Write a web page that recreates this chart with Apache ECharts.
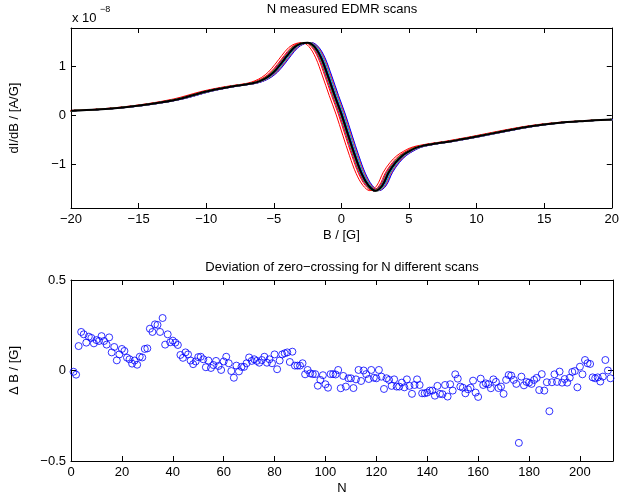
<!DOCTYPE html>
<html>
<head>
<meta charset="utf-8">
<script src="https://cdn.jsdelivr.net/npm/echarts@6/dist/echarts.min.js"></script>
<style>
html, body { margin: 0; padding: 0; background: #fff; }
#main { width: 622px; height: 499px; }
</style>
</head>
<body>
<div id="main"></div>
<script>
// mean EDMR line shape, B in G, signal in units of 1e-8 A/G
var fieldB = [-20, -18, -16, -14, -12, -10, -9, -8, -7, -6.5, -6, -5.5, -5, -4.5, -4, -3.5, -3, -2.5, -2, -1.5, -1, -0.5,
	0, 0.5, 1, 1.5, 2, 2.5, 3, 3.5, 4, 4.5, 5, 5.5, 6, 7, 8, 9, 10, 12, 14, 16, 18, 20];
var dIdB = [0.09, 0.115, 0.16, 0.23, 0.33, 0.48, 0.54, 0.59, 0.63, 0.655, 0.70, 0.77, 0.88, 1.04, 1.22, 1.38, 1.46, 1.48, 1.40, 1.17, 0.80, 0.40,
	0.02, -0.41, -0.83, -1.20, -1.44, -1.545, -1.45, -1.17, -0.97, -0.83, -0.74, -0.67, -0.63, -0.58, -0.54, -0.49, -0.44, -0.33, -0.23, -0.16, -0.12, -0.09];

// zero-crossing deviation of each scan (N = 1..212), in G
var deltaB = [
	-0.007, -0.023, 0.135, 0.213, 0.20, 0.154, 0.187, 0.18, 0.15, 0.168,
	0.163, 0.19, 0.163, 0.143, 0.183, 0.10, 0.13, 0.056, 0.089, 0.119,
	0.108, 0.071, 0.062, 0.038, 0.055, 0.032, 0.076, 0.072, 0.119, 0.122,
	0.231, 0.213, 0.255, 0.252, 0.213, 0.29, 0.143, 0.20, 0.156, 0.165,
	0.154, 0.141, 0.086, 0.07, 0.10, 0.089, 0.055, 0.035, 0.05, 0.074,
	0.076, 0.062, 0.018, 0.055, 0.014, 0.03, 0.053, 0.025, 0.003, 0.05,
	0.076, 0.04, -0.003, -0.04, 0.027, -0.005, 0.02, 0.02, 0.04, 0.072,
	0.053, 0.062, 0.053, 0.043, 0.058, 0.076, 0.043, 0.062, 0.04, 0.089,
	0.007, 0.055, 0.089, 0.095, 0.10, 0.047, 0.104, 0.027, 0.027, 0.027,
	0.04, -0.021, 0.003, -0.016, -0.02, -0.02, -0.084, -0.052, -0.026, -0.076,
	-0.095, -0.02, -0.02, -0.022, 0.003, -0.098, -0.03, -0.089, -0.043, -0.043,
	-0.097, -0.049, 0.003, -0.058, 0, -0.02, -0.047, 0.003, -0.04, -0.043,
	0.003, -0.034, -0.102, -0.043, -0.052, -0.085, -0.049, -0.089, -0.089, -0.067,
	-0.093, -0.049, -0.085, -0.129, -0.08, -0.049, -0.08, -0.126, -0.126, -0.122,
	-0.111, -0.111, -0.139, -0.085, -0.129, -0.131, -0.08, -0.144, -0.076, -0.111,
	-0.021, -0.045, -0.089, -0.095, -0.126, -0.104, -0.095, -0.056, -0.122, -0.146,
	-0.045, -0.08, -0.071, -0.076, -0.098, -0.049, -0.063, -0.097, -0.089, -0.129,
	-0.052, -0.025, -0.028, -0.052, -0.074, -0.40, -0.034, -0.082, -0.063, -0.067,
	-0.074, -0.052, -0.041, -0.108, -0.02, -0.111, -0.065, -0.225, -0.065, -0.021,
	-0.063, -0.006, -0.067, -0.047, -0.067, -0.04, -0.008, -0.003, -0.093, 0.021,
	-0.021, 0.058, 0.04, 0.036, -0.038, -0.043, -0.038, -0.061, -0.034, 0.058,
	0, -0.043
];

var scanColors = ['#0000ff', '#00ff00', '#ff0000', '#00ffff', '#ff00ff', '#ffff00'];
var meanColor = '#000000';

var topXTicks = [-20, -15, -10, -5, 0, 5, 10, 15, 20];
var topYTicks = [-1, 0, 1];
var botXTicks = [0, 20, 40, 60, 80, 100, 120, 140, 160, 180, 200];
var botYTicks = [-0.5, 0, 0.5];

var FONT = 'Liberation Sans';

function minus(v) {
	return String(v).replace('-', '\u2212');
}

// one axis in matlab style: ticks inside, optional labels
function mkAxis(grid, pos, min, max, ticks, withLabels, name, nameGap) {
	var ax = {
		type: 'value',
		gridIndex: grid,
		position: pos,
		min: min,
		max: max,
		splitLine: { show: false },
		axisLine: { show: true, onZero: false, lineStyle: { color: '#000', width: 1 } },
		axisTick: { show: true, inside: true, length: 5, customValues: ticks, lineStyle: { color: '#000' } },
		axisLabel: {
			show: withLabels, customValues: ticks, color: '#000', fontFamily: FONT, fontSize: 13,
			margin: 5, formatter: minus, showMinLabel: true, showMaxLabel: true
		}
	};
	if(name) {
		ax.name = name;
		ax.nameLocation = 'middle';
		ax.nameGap = nameGap;
		ax.nameTextStyle = { color: '#000', fontFamily: FONT, fontSize: 13 };
	}
	return ax;
}

function mkTitle(text, left, top, size, align) {
	return {
		text: text, left: left, top: top, padding: 0, textAlign: align || 'left',
		textStyle: { fontFamily: FONT, fontSize: size, fontWeight: 'normal', color: '#000' }
	};
}

var series = [];
for(var i = 0; i < deltaB.length; i++) {
	var pts = [];
	for(var k = 0; k < fieldB.length; k++) {
		pts.push([fieldB[k] + deltaB[i], dIdB[k]]);
	}
	series.push({
		type: 'line',
		xAxisIndex: 0,
		yAxisIndex: 0,
		data: pts,
		showSymbol: false,
		smooth: 0.35,
		lineStyle: { width: 1, color: scanColors[(i + 1) % 6] },
		silent: true
	});
}
// mean scan on top in black
var meanPts = [];
for(var m = 0; m < fieldB.length; m++) {
	meanPts.push([fieldB[m], dIdB[m]]);
}
series.push({
	type: 'line',
	xAxisIndex: 0,
	yAxisIndex: 0,
	data: meanPts,
	showSymbol: false,
	smooth: 0.35,
	z: 3,
	lineStyle: { width: 2, color: meanColor },
	silent: true
});

var scatterPts = [];
for(var j = 0; j < deltaB.length; j++) {
	scatterPts.push([j + 1, deltaB[j]]);
}
series.push({
	type: 'scatter',
	xAxisIndex: 2,
	yAxisIndex: 2,
	data: scatterPts,
	symbol: 'circle',
	symbolSize: 7,
	itemStyle: { color: 'rgba(0,0,0,0)', borderColor: '#0000ff', borderWidth: 1 }
});

var chart = echarts.init(document.getElementById('main'), null, { renderer: 'canvas' });
chart.setOption({
	backgroundColor: '#fff',
	animation: false,
	title: [
		mkTitle('N measured EDMR scans', 342, 3, 13, 'center'),
		mkTitle('x 10', 72, 12, 13),
		mkTitle('\u22128', 100, 5, 9),
		mkTitle('Deviation of zero\u2212crossing for N different scans', 342, 261, 13, 'center')
	],
	grid: [
		{ left: 71, right: 8, top: 28, height: 180 },
		{ left: 71, right: 9, top: 280, height: 181 }
	],
	xAxis: [
		mkAxis(0, 'bottom', -20, 20, topXTicks, true, 'B / [G]', 21),
		mkAxis(0, 'top', -20, 20, topXTicks, false),
		mkAxis(1, 'bottom', 0, 213, botXTicks, true, 'N', 21),
		mkAxis(1, 'top', 0, 213, botXTicks, false)
	],
	yAxis: [
		mkAxis(0, 'left', -1.9, 1.78, topYTicks, true, 'dI/dB / [A/G]', 50),
		mkAxis(0, 'right', -1.9, 1.78, topYTicks, false),
		mkAxis(1, 'left', -0.5, 0.5, botYTicks, true, '\u0394 B / [G]', 50),
		mkAxis(1, 'right', -0.5, 0.5, botYTicks, false)
	],
	series: series
});
</script>
</body>
</html>
